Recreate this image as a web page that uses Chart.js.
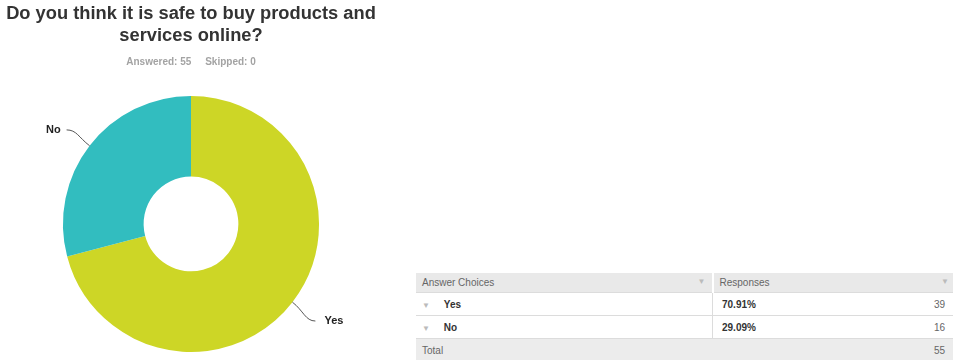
<!DOCTYPE html>
<html>
<head>
  <title>Safe to buy online</title>
  <script src="https://cdn.jsdelivr.net/npm/chart.js@4.4.1/dist/chart.umd.min.js"></script>
  <style>
    body { margin: 0; background: #fff; font-family: "Liberation Sans", Arial, sans-serif; }
    #chartBox { position: absolute; left: 0; top: 0; width: 382px; height: 360px; }
    #results { position: absolute; left: 416px; top: 273px; width: 537px; border-collapse: collapse; font-size: 10px; color: #666; }
    #results td { padding: 0 0 0 6px; border-bottom: 1px solid #dcdcdc; }
    #results tr.head td { background: #e9e9e9; height: 19px; border-bottom: 1px solid #dcdcdc; }
    #results tr.row td { height: 22px; }
    #results tr.row td.pct { padding-left: 9px; }
    #results tr.total td { background: #ececec; height: 22px; border-bottom: none; }
    #results td.split { border-right: 1px solid #dcdcdc; }
    #results tr.head td.split { border-right: 2px solid #fff; }
    #results .arrow { color: #bbb; font-size: 8px; }
    #results .right { text-align: right; padding-right: 8px; }
    #results b { color: #333; }
  </style>
</head>
<body>
  <div id="chartBox"><canvas id="myChart" width="382" height="360"></canvas></div>
  <table id="results"></table>

  <script>
    const questionLines = ['Do you think it is safe to buy products and', 'services online?'];
    const choices = ['Yes', 'No'];
    const counts = [39, 16];
    const answered = 55;
    const skipped = 0;
    const sliceColors = ['rgb(205, 214, 38)', 'rgb(50, 189, 191)'];

    const total = counts.reduce((a, b) => a + b, 0);
    const percents = counts.map(c => (c / total * 100).toFixed(2) + '%');

    // slice names with a little curved leader line out to the side
    const sliceLabels = {
      id: 'sliceLabels',
      afterDatasetsDraw(chart) {
        const ctx = chart.ctx;
        const arcs = chart.getDatasetMeta(0).data;
        ctx.save();
        arcs.forEach((arc, i) => {
          const p = arc.getProps(['x', 'y', 'startAngle', 'endAngle', 'outerRadius'], true);
          const mid = (p.startAngle + p.endAngle) / 2;
          const cx = Math.cos(mid), cy = Math.sin(mid);
          const side = cx < 0 ? -1 : 1;
          const R = p.outerRadius;
          const sx = p.x + cx * R, sy = p.y + cy * R;
          const ex = p.x + cx * (R + 24) + side * 4;
          const ey = p.y + cy * (R + 26) + (cy > 0 ? 3 : 0);
          ctx.beginPath();
          ctx.moveTo(sx, sy);
          ctx.bezierCurveTo(p.x + cx * (R + 14), p.y + cy * (R + 14), ex - side * 10, ey, ex, ey);
          ctx.strokeStyle = '#555';
          ctx.lineWidth = 1;
          ctx.stroke();
          ctx.font = 'bold 11px "Liberation Sans", Arial, sans-serif';
          ctx.fillStyle = '#222';
          ctx.textBaseline = 'middle';
          ctx.textAlign = side < 0 ? 'right' : 'left';
          ctx.fillText(choices[i], ex + side * (side < 0 ? 6 : 9), ey);
        });
        ctx.restore();
      }
    };

    new Chart('myChart', {
      type: 'doughnut',
      data: {
        labels: choices,
        datasets: [{
          data: counts,
          backgroundColor: sliceColors,
          borderWidth: 0
        }]
      },
      options: {
        responsive: false,
        animation: false,
        cutout: '37%',
        layout: { padding: { top: 0, bottom: 8, left: 0, right: 0 } },
        plugins: {
          legend: { display: false },
          tooltip: { enabled: false },
          title: {
            display: true,
            text: questionLines,
            color: '#333',
            font: { family: '"Liberation Sans", Arial, sans-serif', size: 18.3, weight: 'bold', lineHeight: 1.2 },
            padding: { top: 3, bottom: 0 }
          },
          subtitle: {
            display: true,
            text: 'Answered: ' + answered + '     Skipped: ' + skipped,
            color: '#a3a3a3',
            font: { family: '"Liberation Sans", Arial, sans-serif', size: 10, weight: 'bold', lineHeight: 1.2 },
            padding: { top: 9, bottom: 28 }
          }
        }
      },
      plugins: [sliceLabels]
    });

    // response table under the chart
    const table = document.getElementById('results');
    let html = '<tr class="head"><td class="split">Answer Choices<span class="arrow" style="float:right;padding-right:6px">&#9660;</span></td>' +
               '<td colspan="2">Responses<span class="arrow" style="float:right;padding-right:4px">&#9660;</span></td></tr>';
    choices.forEach((c, i) => {
      html += '<tr class="row"><td class="split" style="width:290px"><span class="arrow">&#9660;</span>&nbsp;&nbsp;&nbsp;&nbsp;&nbsp;<b>' + c + '</b></td>' +
              '<td class="pct"><b>' + percents[i] + '</b></td><td class="right">' + counts[i] + '</td></tr>';
    });
    html += '<tr class="total"><td>Total</td><td></td><td class="right">' + total + '</td></tr>';
    table.innerHTML = html;
  </script>
</body>
</html>
